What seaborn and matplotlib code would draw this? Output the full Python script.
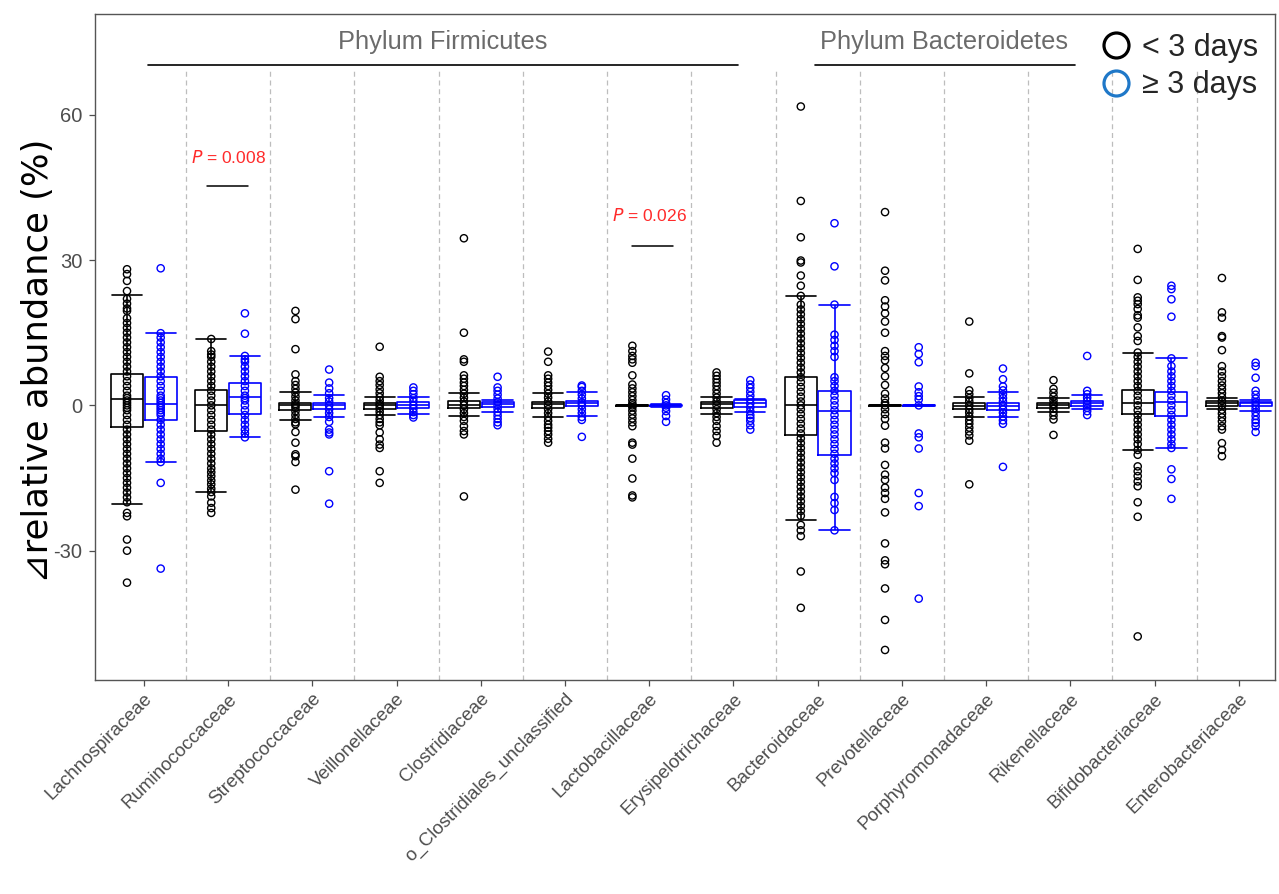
import matplotlib
matplotlib.use("Agg")
import matplotlib.pyplot as plt
from matplotlib.lines import Line2D
import numpy as np
import pandas as pd
import seaborn as sns

# ---------------- data ----------------
families = ["Lachnospiraceae", "Ruminococcaceae", "Streptococcaceae", "Veillonellaceae",
            "Clostridiaceae", "o_Clostridiales_unclassified", "Lactobacillaceae",
            "Erysipelotrichaceae", "Bacteroidaceae", "Prevotellaceae",
            "Porphyromonadaceae", "Rikenellaceae", "Bifidobacteriaceae", "Enterobacteriaceae"]
groups = ["< 3 days", "\u2265 3 days"]

# box summaries (lower whisker, Q1, median, Q3, upper whisker)
lt3_whislo = [-20.3, -17.9, -3.1, -1.9, -2.2, -2.3, -0.1, -1.7, -23.7, -0.1, -2.5, -1.4, -9.2, -0.8]
lt3_q1     = [-4.4, -5.2, -0.97, -0.7, -0.5, -0.5, -0.05, -0.5, -6.2, -0.1, -0.8, -0.5, -1.7, -0.1]
lt3_median = [1.4, 0.0, 0.0, 0.15, 0.15, 0.2, 0.0, 0.2, 0.15, 0.0, -0.15, 0.0, 0.5, 0.4]
lt3_q3     = [6.4, 3.2, 0.55, 0.55, 0.9, 0.75, 0.05, 0.7, 5.8, 0.1, 0.4, 0.55, 3.2, 0.9]
lt3_whishi = [22.8, 13.7, 2.8, 1.7, 2.5, 2.5, 0.1, 1.8, 22.6, 0.1, 1.8, 1.6, 10.9, 1.6]

ge3_whislo = [-11.7, -6.6, -2.3, -1.7, -1.4, -2.1, -0.3, -1.4, -25.8, -0.1, -2.5, -0.8, -8.8, -1.2]
ge3_q1     = [-3.0, -1.7, -0.7, -0.5, -0.3, -0.1, -0.1, -0.3, -10.2, -0.05, -0.9, -0.1, -2.2, -0.1]
ge3_median = [0.35, 1.8, 0.0, 0.15, 0.2, 0.4, 0.0, 0.4, -1.2, 0.0, -0.15, 0.4, 0.7, 0.4]
ge3_q3     = [5.8, 4.7, 0.55, 0.7, 0.7, 1.0, 0.1, 1.2, 2.9, 0.05, 0.5, 0.9, 2.8, 0.7]
ge3_whishi = [14.9, 10.2, 2.1, 1.8, 1.1, 2.8, 0.3, 1.4, 20.8, 0.1, 2.7, 2.1, 9.7, 1.2]

lachno_lt3 = [28.1, 27.1, 25.7, 23.6, 22.0, 21.0, 20.0, 19.5, 18.0, 17.0, 16.0, 15.0, 14.0, 13.0,
              12.0, 11.0, 10.0, 9.0, 8.0, 7.0, 6.0, 5.0, 4.0, 3.0, 2.0, 1.5, 1.0, 0.5, 0.0, -0.5,
              -1.0, -2.0, -3.0, -4.0, -5.0, -6.0, -7.0, -8.0, -9.0, -10.0, -11.0, -12.0, -13.0,
              -14.0, -15.0, -16.0, -17.0, -18.0, -19.0, -20.0, -22.2, -22.9, -27.7, -30.0, -36.6]
lachno_ge3 = [28.3, 14.9, 14.0, 13.0, 12.0, 11.0, 10.0, 9.0, 8.0, 7.0, 6.0, 5.0, 4.0, 3.0, 2.0,
              1.5, 1.0, 0.5, 0.0, -0.5, -1.0, -1.5, -2.0, -3.0, -4.0, -5.0, -6.0, -7.0, -8.0,
              -9.0, -10.0, -11.0, -11.7, -16.0, -33.7]
rumino_lt3 = [13.7, 11.2, 10.5, 10.0, 9.0, 8.0, 7.0, 6.0, 5.0, 4.0, 3.0, 2.0, 1.0, 0.0, -1.0,
              -2.0, -3.0, -4.0, -5.0, -6.0, -7.0, -8.0, -9.0, -10.0, -11.0, -12.0, -13.0, -13.8,
              -14.6, -15.5, -16.3, -17.2, -17.9, -18.8, -20.1, -21.2, -22.2]
rumino_ge3 = [19.0, 14.8, 10.2, 9.5, 9.0, 8.0, 7.0, 6.0, 5.0, 4.0, 3.0, 2.0, 1.5, 1.0, 0.0, -1.0,
              -2.0, -3.0, -4.0, -5.0, -5.8, -6.6]
strep_lt3 = [19.5, 17.8, 11.6, 6.4, 5.0, 4.2, 3.4, 2.6, 1.8, 1.0, 0.3, 0.0, -0.5, -1.2, -2.0,
             -2.8, -3.5, -3.9, -5.5, -7.7, -10.1, -10.5, -11.7, -17.4]
strep_ge3 = [7.4, 4.7, 3.5, 2.5, 1.5, 0.8, 0.0, -0.8, -1.6, -2.4, -3.4, -5.0, -5.6, -6.0, -13.6, -20.3]
veill_lt3 = [12.1, 5.9, 5.0, 4.2, 3.3, 2.5, 1.7, 1.0, 0.3, 0.0, -0.6, -1.3, -2.0, -2.8, -3.5,
             -4.1, -5.6, -7.0, -8.1, -8.8, -13.6, -16.0]
veill_ge3 = [3.7, 3.0, 2.3, 1.5, 0.8, 0.0, -0.7, -1.4, -2.0, -2.5]
clost_lt3 = [34.5, 15.0, 9.5, 9.0, 6.2, 5.5, 4.7, 4.0, 3.2, 2.4, 1.6, 0.8, 0.0, -0.8, -1.6, -2.4,
             -3.2, -4.3, -5.3, -6.0, -18.8]
clost_ge3 = [5.9, 3.7, 3.0, 2.2, 1.4, 0.7, 0.0, -0.7, -1.4, -2.1, -2.8, -3.5, -4.1]
ocl_lt3 = [11.1, 9.0, 6.2, 5.5, 4.7, 4.0, 3.2, 2.4, 1.6, 0.8, 0.0, -0.8, -1.6, -2.4, -3.2, -4.0,
           -4.6, -5.3, -6.0, -6.9, -7.7]
ocl_ge3 = [4.1, 3.8, 3.0, 2.2, 1.4, 0.6, 0.0, -0.8, -1.6, -2.4, -3.0, -6.5]
lacto_lt3 = [12.3, 11.2, 10.2, 9.5, 8.8, 6.2, 4.3, 3.5, 2.7, 1.9, 1.1, 0.4, 0.0, -0.4, -1.1, -1.9,
             -2.7, -3.5, -4.3, -7.7, -8.1, -11.0, -15.1, -18.6, -19.0]
lacto_ge3 = [2.1, 1.2, 0.5, 0.0, -0.5, -1.2, -2.2, -3.4]
erys_lt3 = [6.8, 6.1, 5.4, 4.7, 4.0, 3.2, 2.4, 1.6, 0.8, 0.0, -0.8, -1.6, -2.4, -3.2, -4.3, -5.3,
            -6.3, -7.7]
erys_ge3 = [5.2, 4.3, 3.6, 2.8, 2.0, 1.2, 0.4, -0.4, -1.2, -2.0, -2.6, -3.2, -4.1, -5.0]
bact_lt3 = [61.7, 42.2, 34.7, 29.9, 29.5, 26.8, 24.7, 22.6, 20.8, 19.8, 18.8, 17.8, 16.8, 15.8,
            14.8, 13.8, 12.8, 11.8, 10.8, 9.8, 8.8, 7.8, 6.8, 5.8, 4.8, 3.8, 2.8, 1.8, 0.8, 0.0,
            -0.8, -1.8, -2.8, -3.8, -4.8, -5.8, -6.8, -7.8, -8.8, -9.8, -10.8, -11.8, -12.8,
            -13.8, -14.8, -15.8, -16.8, -17.8, -18.8, -19.8, -20.8, -21.8, -22.8, -24.7, -25.8,
            -27.0, -34.3, -41.8]
bact_ge3 = [37.6, 28.7, 20.8, 14.6, 13.5, 12.3, 11.2, 10.0, 5.8, 5.0, 4.0, 3.0, 2.0, 1.0, 0.0,
            -1.0, -2.0, -3.0, -4.0, -5.0, -6.0, -7.0, -8.0, -9.0, -10.0, -11.0, -12.0, -13.0,
            -14.0, -15.4, -18.9, -20.2, -21.6, -25.8]
prev_lt3 = [39.9, 27.8, 25.8, 21.7, 20.4, 19.0, 17.3, 15.0, 11.2, 10.2, 9.3, 7.7, 6.0, 4.2, 2.4,
            1.4, 0.5, 0.0, -0.8, -1.8, -2.8, -4.2, -7.7, -8.9, -12.3, -14.3, -15.4, -17.0, -18.1,
            -19.3, -22.1, -28.5, -32.0, -32.8, -37.8, -44.3, -50.5]
prev_ge3 = [12.0, 10.6, 8.9, 3.9, 2.7, 1.9, 1.2, 0.0, -5.8, -6.6, -8.9, -18.1, -20.8, -39.9]
porph_lt3 = [17.3, 6.6, 3.1, 2.3, 1.5, 0.8, 0.0, -0.8, -1.5, -2.3, -3.1, -3.8, -4.6, -5.4, -6.2,
             -7.3, -16.3]
porph_ge3 = [7.6, 5.4, 3.9, 3.1, 2.3, 1.5, 0.8, 0.0, -0.8, -1.5, -2.3, -3.1, -3.8, -12.7]
riken_lt3 = [5.2, 3.4, 2.6, 1.8, 1.0, 0.3, 0.0, -0.7, -1.4, -2.1, -2.9, -6.1]
riken_ge3 = [10.2, 3.0, 2.3, 1.6, 0.9, 0.2, -0.5, -1.2, -2.0]
bifido_lt3 = [32.3, 25.9, 22.3, 21.6, 20.9, 19.9, 18.6, 18.1, 16.1, 14.3, 13.3, 10.9, 10.0, 9.0,
              8.0, 7.0, 6.0, 5.0, 4.0, 3.0, 2.0, 1.0, 0.0, -1.0, -2.0, -3.0, -4.0, -5.0, -6.0,
              -7.0, -8.0, -9.2, -10.2, -12.6, -13.6, -14.6, -15.7, -16.7, -20.0, -23.0, -47.7]
bifido_ge3 = [24.7, 24.0, 21.9, 18.3, 9.7, 8.1, 7.0, 6.0, 5.0, 4.0, 3.0, 2.0, 1.0, 0.0, -1.0,
              -2.0, -3.0, -4.0, -5.0, -6.0, -7.0, -8.0, -8.8, -13.2, -15.2, -19.3]
entero_lt3 = [26.3, 19.2, 18.1, 14.3, 14.0, 11.4, 8.1, 7.0, 6.0, 5.0, 4.1, 3.3, 2.5, 1.7, 0.9,
              0.0, -0.9, -1.7, -2.5, -3.3, -4.3, -5.0, -7.8, -9.2, -10.5]
entero_ge3 = [8.8, 8.1, 5.7, 3.0, 2.2, 1.4, 0.7, 0.0, -0.7, -1.4, -2.2, -3.0, -3.6, -4.3, -5.5]

points_lt3 = [lachno_lt3, rumino_lt3, strep_lt3, veill_lt3, clost_lt3, ocl_lt3, lacto_lt3,
              erys_lt3, bact_lt3, prev_lt3, porph_lt3, riken_lt3, bifido_lt3, entero_lt3]
points_ge3 = [lachno_ge3, rumino_ge3, strep_ge3, veill_ge3, clost_ge3, ocl_ge3, lacto_ge3,
              erys_ge3, bact_ge3, prev_ge3, porph_ge3, riken_ge3, bifido_ge3, entero_ge3]

p_labels = ["0.008", "0.026"]

# ---------------- tables ----------------
box_rows = []
for i, fam in enumerate(families):
    for g, stats in zip(groups, [(lt3_whislo, lt3_q1, lt3_median, lt3_q3, lt3_whishi),
                                 (ge3_whislo, ge3_q1, ge3_median, ge3_q3, ge3_whishi)]):
        for arr in stats:
            box_rows.append((fam, g, arr[i]))
box_df = pd.DataFrame(box_rows, columns=["family", "group", "value"])

pt_rows = []
for i, fam in enumerate(families):
    for g, pts in zip(groups, [points_lt3, points_ge3]):
        for v in pts[i]:
            pt_rows.append((fam, g, v))
pt_df = pd.DataFrame(pt_rows, columns=["family", "group", "value"])

# ---------------- figure ----------------
sns.set_style("white")
plt.rcParams["font.family"] = ["Liberation Sans", "DejaVu Sans"]
plt.rcParams["axes.unicode_minus"] = False

W, H = 1279, 894
fig = plt.figure(figsize=(W / 100, H / 100), dpi=100)
ax = fig.add_axes([95 / W, 1 - 680 / H, (1275 - 95) / W, (680 - 14) / H])

pal = ["#000000", "#0000FF"]
sns.boxplot(data=box_df, x="family", y="value", hue="group", order=families,
            hue_order=groups, palette=pal, fill=False, width=0.8, gap=0.05,
            whis=(0, 100), showfliers=False, linewidth=1.2, capwidths=0.36,
            legend=False, ax=ax)
sns.stripplot(data=pt_df, x="family", y="value", hue="group", order=families,
              hue_order=groups, palette=pal, dodge=True, jitter=False, size=5.2,
              linewidth=1.0, legend=False, ax=ax, zorder=3)
for coll in ax.collections:
    fc = coll.get_facecolors()
    coll.set_edgecolors(fc)
    coll.set_facecolors("none")

ylo, yhi = -56.7, 80.8
ax.set_ylim(ylo, yhi)
ax.set_xlim(-0.58, len(families) - 1 + 0.43)

# category separators
seps = np.arange(len(families) - 1) + 0.5
ax.vlines(seps, ylo, 69.2, colors="#bdbdbd", linestyles=(0, (4, 3)), linewidth=0.9, zorder=0)

# phylum headers
ax.plot([0.05, 7.05], [70.3, 70.3], color="black", lw=1.2)
ax.text(3.55, 75.0, "Phylum Firmicutes", ha="center", va="center", fontsize=18.3, color="#6b6b6b")
ax.plot([7.97, 11.05], [70.3, 70.3], color="black", lw=1.2)
ax.text(9.5, 75.0, "Phylum Bacteroidetes", ha="center", va="center", fontsize=18.3, color="#6b6b6b")

# significance annotations
ax.plot([0.75, 1.24], [45.2, 45.2], color="black", lw=1.1)
ax.text(1.0, 51.2, r"$\it{P}$ = " + p_labels[0], ha="center", va="center", fontsize=12.5, color="#ff2a2a")
ax.plot([5.79, 6.28], [32.8, 32.8], color="black", lw=1.1)
ax.text(6.0, 39.1, r"$\it{P}$ = " + p_labels[1], ha="center", va="center", fontsize=12.5, color="#ff2a2a")

# axes styling
ax.set_yticks([-30, 0, 30, 60])
ax.tick_params(axis="both", which="both", length=4, color="#4d4d4d", width=0.9,
               labelcolor="#4d4d4d", left=True, bottom=True)
ax.tick_params(axis="y", labelsize=14.5, pad=5)
ax.tick_params(axis="x", labelsize=13.5)
ax.set_xticks(range(len(families)))
ax.set_xticklabels(families)
plt.setp(ax.get_xticklabels(), rotation=45, ha="right", rotation_mode="anchor")
ax.set_xlabel("")
ax.set_ylabel("\u22bfrelative abundance (%)", fontsize=25.5, color="black",
              family=["DejaVu Sans"])
ax.yaxis.set_label_coords(-0.034, 0.48)
for s in ax.spines.values():
    s.set_color("#555555")
    s.set_linewidth(1.0)

# legend
handles = [Line2D([], [], marker="o", ls="", mfc="none", mec="black", ms=18, mew=2.3),
           Line2D([], [], marker="o", ls="", mfc="none", mec="#1f78c8", ms=18, mew=2.3)]
ax.legend(handles, groups, loc="upper right", bbox_to_anchor=(0.9856, 0.972), frameon=False,
          fontsize=22, handletextpad=0.35, handlelength=1.0, labelspacing=0.25,
          borderaxespad=0.0, borderpad=0.0)

fig.savefig("out.png", dpi=100)
